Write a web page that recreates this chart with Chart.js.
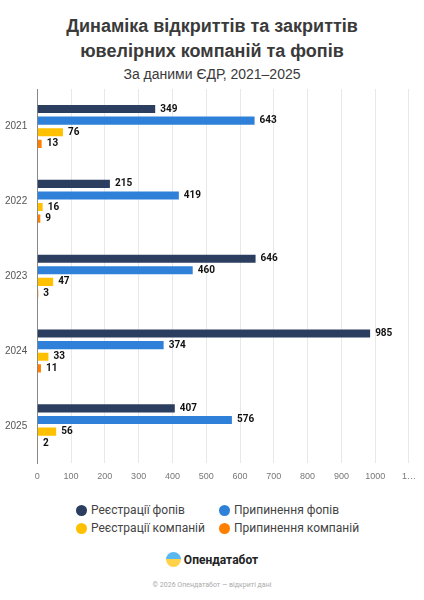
<!DOCTYPE html>
<html><head><meta charset="utf-8">
<script src="https://cdn.jsdelivr.net/npm/chart.js@4"></script>
<style>
body{margin:0;background:#fff;font-family:Roboto,Arial,sans-serif;width:424px;height:600px;overflow:hidden}
h1{margin:14px 0 0;text-align:center;font-size:18px;line-height:25px;color:#3a3a3a;font-weight:700;font-family:"Liberation Sans",Arial,sans-serif}
.sub{text-align:center;font-size:14px;color:#3a3a3a;margin-top:2px;font-family:"Liberation Sans",Arial,sans-serif}
#wrap{position:absolute;left:0;top:81px;width:424px;height:409px}
.legend{position:absolute;top:503px;left:76px;display:grid;grid-template-columns:143px 150px;row-gap:4px;font-size:12px;color:#444}
.legend span{display:inline-block;width:11px;height:11px;border-radius:50%;vertical-align:-2px;margin-right:4px}
.logo{position:absolute;top:552px;left:0;width:424px;text-align:center;font-size:12px;font-weight:700;color:#222}
.logo i{display:inline-block;width:15px;height:15px;border-radius:50%;background:linear-gradient(#5ab8f0 50%,#ffd24a 50%);vertical-align:-3px;margin-right:3px}
.copy{position:absolute;top:581px;width:424px;text-align:center;font-size:7px;color:#aaa}
</style></head><body>
<h1>Динаміка відкриттів та закриттів<br>ювелірних компаній та фопів</h1>
<div class="sub">За даними ЄДР, 2021–2025</div>
<div id="wrap"><canvas id="c"></canvas></div>
<div class="legend">
<div><span style="background:#2c3e5f"></span>Реєстрації фопів</div>
<div><span style="background:#2f80d8"></span>Припинення фопів</div>
<div><span style="background:#ffc000"></span>Реєстрації компаній</div>
<div><span style="background:#ff8000"></span>Припинення компаній</div>
</div>
<div class="logo"><i></i>Опендатабот</div>
<div class="copy">© 2026 Опендатабот — відкриті дані</div>
<script>
const years = ['2021', '2022', '2023', '2024', '2025'];
const fopReg = [349, 215, 646, 985, 407];
const fopStop = [643, 419, 460, 374, 576];
const compReg = [76, 16, 47, 33, 56];
const compStop = [13, 9, 3, 11, 2];

const valueLabels = {
  id: 'valueLabels',
  afterDatasetsDraw(chart) {
    const ctx = chart.ctx;
    ctx.save();
    ctx.font = 'bold 10px Roboto, Arial, sans-serif';
    ctx.fillStyle = '#111';
    ctx.textBaseline = 'middle';
    chart.data.datasets.forEach((ds, i) => {
      chart.getDatasetMeta(i).data.forEach((bar, j) => {
        ctx.fillText(ds.data[j], bar.x + 5, bar.y);
      });
    });
    ctx.restore();
  }
};

new Chart(document.getElementById('c'), {
  type: 'bar',
  data: {
    labels: years,
    datasets: [
      { label: 'Реєстрації фопів', data: fopReg, backgroundColor: '#2c3e5f' },
      { label: 'Припинення фопів', data: fopStop, backgroundColor: '#2f80d8' },
      { label: 'Реєстрації компаній', data: compReg, backgroundColor: '#ffc000' },
      { label: 'Припинення компаній', data: compStop, backgroundColor: '#ff8000' }
    ]
  },
  options: {
    indexAxis: 'y',
    responsive: true,
    maintainAspectRatio: false,
    animation: false,
    layout: { padding: { left: 3, right: 6, top: 0 } },
    datasets: { bar: { categoryPercentage: 0.62, barPercentage: 0.7 } },
    scales: {
      x: {
        min: 0, max: 1100,
        ticks: { stepSize: 100, color: '#777', font: { size: 9 }, padding: 8,
          callback: v => v === 1100 ? '1…' : v },
        grid: { color: '#e8e8e8', drawTicks: false },
        border: { display: false }
      },
      y: {
        ticks: { color: '#555', font: { size: 10 }, padding: 2 },
        grid: { display: false },
        border: { color: '#888' }
      }
    },
    plugins: { legend: { display: false }, tooltip: { enabled: false } }
  },
  plugins: [valueLabels]
});
</script>
</body></html>
